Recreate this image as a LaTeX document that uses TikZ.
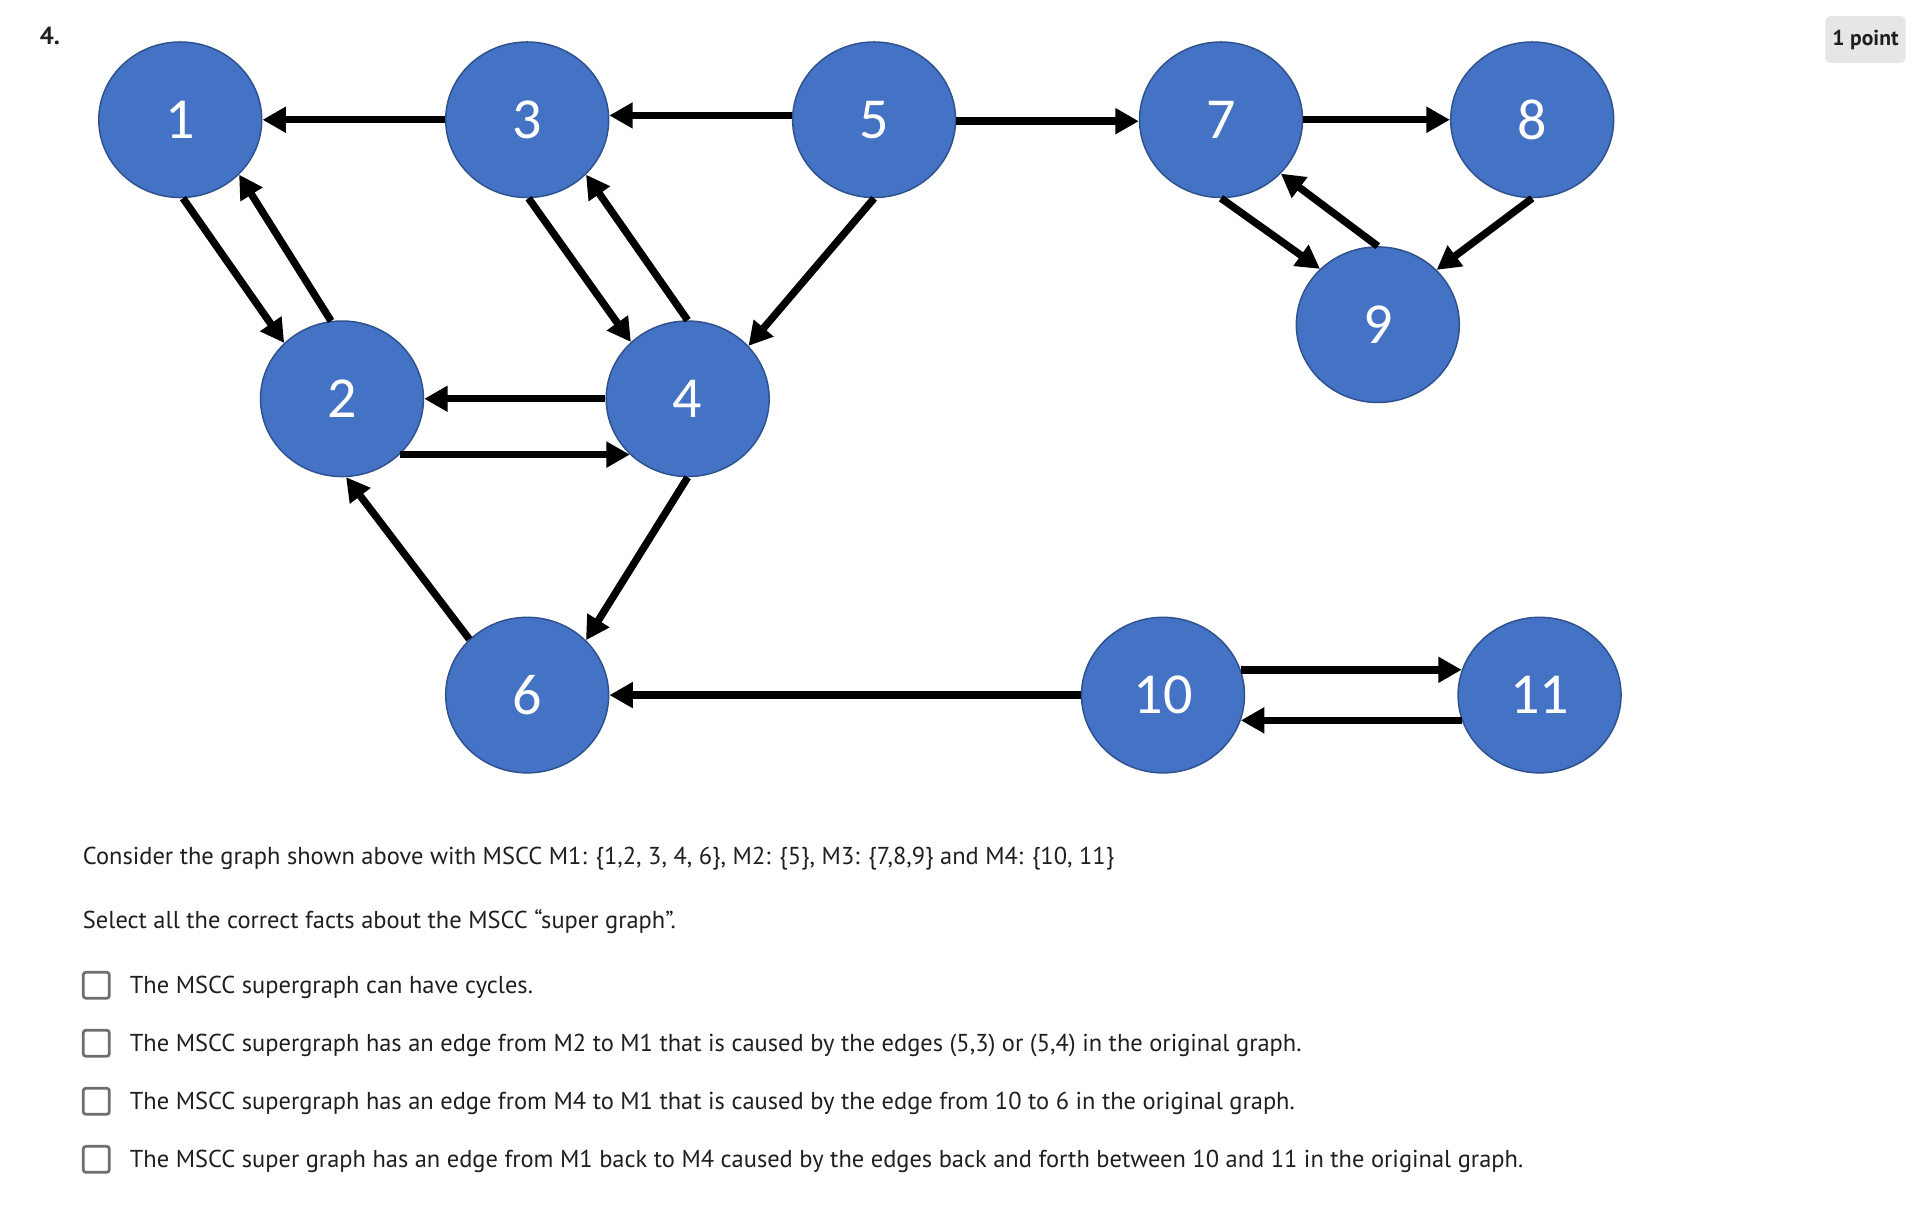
\documentclass[tikz,border=0pt]{standalone}
\usepackage{fontspec}
\setmainfont{PT Sans}
\newfontfamily\nodefont{Carlito}
\usetikzlibrary{arrows.meta,shapes.geometric}
\definecolor{nodeblue}{HTML}{4472C4}
\definecolor{nodeedge}{HTML}{2F528F}
\definecolor{boxgray}{HTML}{6E6E6E}
\definecolor{badgegray}{HTML}{E6E6E6}
\definecolor{txt}{HTML}{1F1F1F}
\tikzset{
  vert/.style={ellipse, fill=nodeblue, draw=nodeedge, line width=1.2pt,
    minimum width=132pt, minimum height=126pt, inner sep=0pt, text=white,
    font=\nodefont\fontsize{47}{47}\selectfont},
  arr/.style={line width=6pt, -{Triangle[length=19pt,width=20pt]}},
  body/.style={anchor=base west, inner sep=0pt, text=txt, font=\fontsize{19.8}{24}\selectfont},
  cbox/.style={draw=boxgray, line width=2.2pt, rounded corners=2pt, minimum width=21pt, minimum height=21pt, inner sep=0pt}
}
\begin{document}
\begin{tikzpicture}[x=1pt,y=1pt]
\useasboundingbox[fill=white] (0,0) rectangle (1560,-984);
% header
\node[anchor=base west, inner sep=0pt, text=txt, font=\bfseries\fontsize{20}{22}\selectfont] (qnum) at (32,-36) {4.};
\node[fill=badgegray, rounded corners=4pt, minimum width=65pt, minimum height=38pt, inner sep=0pt, text=txt, font=\bfseries\fontsize{17.5}{20}\selectfont] (badge) at (1511,-32) {1 point};
% vertices
\node[vert] (n1) at (146,-97) {1};
\node[vert] (n3) at (427,-97) {3};
\node[vert] (n5) at (708,-97) {5};
\node[vert] (n7) at (989,-97) {7};
\node[vert] (n8) at (1241,-97) {8};
\node[vert] (n9) at (1116,-263) {9};
\node[vert] (n2) at (277,-323) {2};
\node[vert] (n4) at (557,-323) {4};
\node[vert] (n6) at (427,-563) {6};
\node[vert] (n10) at (942,-563) {10};
\node[vert] (n11) at (1247,-563) {11};
% edges
\draw[arr] (n3.west) -- (n1.east);
\draw[arr] (n5.177) -- (n3.3);
\draw[arr] (n5.-1) -- (n7.181);
\draw[arr] (n7.east) -- (n8.west);
\draw[arr] (n1.-88) -- (n2.136);
\draw[arr] (n2.98) -- (n1.-43);
\draw[arr] (n3.-89) -- (n4.135);
\draw[arr] (n4.90) -- (n3.-43);
\draw[arr] (n5.-90) -- (n4.41);
\draw[arr] (n4.west) -- (n2.east);
\draw[arr] (n2.-44) -- (n4.224);
\draw[arr] (n4.-90) -- (n6.43);
\draw[arr] (n6.136) -- (n2.-87);
\draw[arr] (n10.west) -- (n6.east);
\draw[arr] (n10.18) -- (n11.162);
\draw[arr] (n11.198) -- (n10.-18);
\draw[arr] (n7.-90) -- (n9.136);
\draw[arr] (n9.90) -- (n7.-42);
\draw[arr] (n8.-90) -- (n9.43);
% text
\node[body] (t1) at (67,-700) {Consider the graph shown above with MSCC M1: \{1,2, 3, 4, 6\}, M2: \{5\}, M3: \{7,8,9\} and M4: \{10, 11\}};
\node[body] (t2) at (67,-752) {Select all the correct facts about the MSCC “super graph”.};
\node[cbox] (c1) at (78,-798) {};
\node[cbox] (c2) at (78,-845) {};
\node[cbox] (c3) at (78,-892) {};
\node[cbox] (c4) at (78,-939) {};
\node[body] (o1) at (105,-805) {The MSCC supergraph can have cycles.};
\node[body] (o2) at (105,-852) {The MSCC supergraph has an edge from M2 to M1 that is caused by the edges (5,3) or (5,4) in the original graph.};
\node[body] (o3) at (105,-899) {The MSCC supergraph has an edge from M4 to M1 that is caused by the edge from 10 to 6 in the original graph.};
\node[body] (o4) at (105,-946) {The MSCC super graph has an edge from M1 back to M4 caused by the edges back and forth between 10 and 11 in the original graph.};
\end{tikzpicture}
\end{document}
